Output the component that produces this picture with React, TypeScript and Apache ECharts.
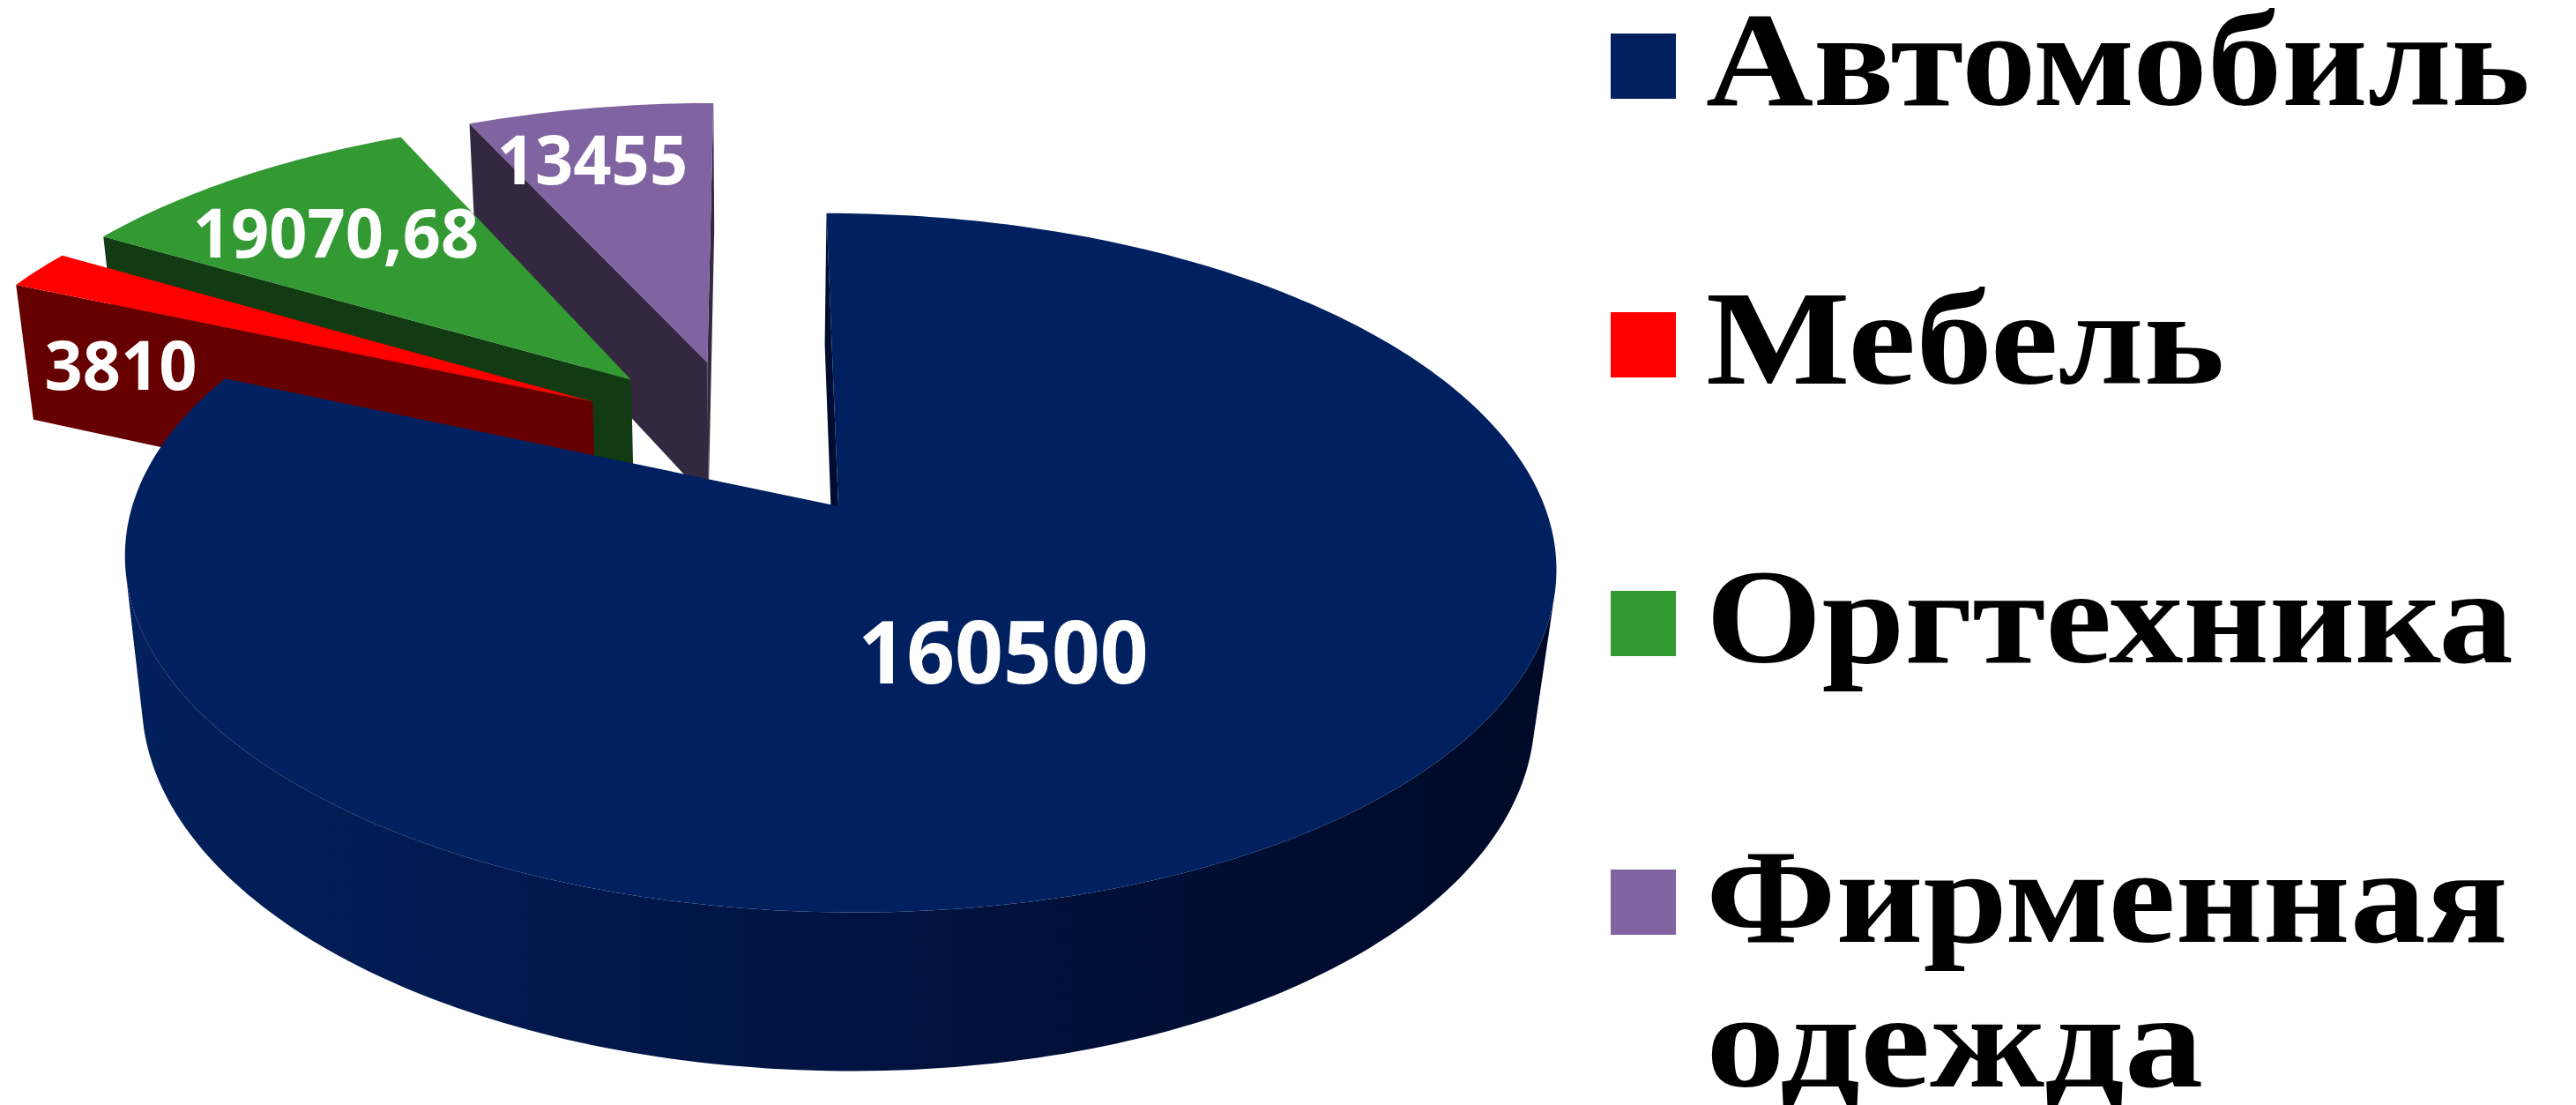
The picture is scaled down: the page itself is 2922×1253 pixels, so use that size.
import React, { useEffect, useRef } from "react";
import * as echarts from "echarts";

const categories = ["Автомобиль", "Мебель", "Оргтехника", "Фирменная\nодежда"];
const values = [160500, 3810, 19070.68, 13455];
const topColors = ["#002060", "#FF0000", "#339933", "#8064A2"];
const wallColors = ["#000C30", "#660000", "#133B13", "#332840"];

// Perspective projection of the exploded pie, in page pixels
const VX = 854, Y0 = 574, RX = 801, RY = 386, HEIGHT = 168, SHIFT = 97;
const K = 0.162, M = 0.027, EXPLODE = 0.25, EXPLODED_RADIUS = 1.012;
const labelCentres = [[1138, 737], [137, 412], [381, 262], [672, 179]];
const labelSizes = [99, 78, 78, 78];
const labelScale = 0.97;
const drawOrder = [3, 2, 1, 0];

const total = values.reduce((a, b) => a + b, 0);
let acc = 0;
const slices = values.map((v) => {
  const a0 = (acc / total) * Math.PI * 2;
  acc += v;
  const a1 = (acc / total) * Math.PI * 2;
  return { a0, a1, mid: (a0 + a1) / 2 };
});
const project = (u: number, v: number, z: number) => {
  const w = 1 + K * v + M * z;
  return [VX + (RX * u + SHIFT) / w, Y0 + (-RY * v + HEIGHT * z) / w];
};
const shoelace = (p: number[][]) => {
  let s = 0;
  p.forEach((q, i) => {
    const r = p[(i + 1) % p.length];
    s += q[0] * r[1] - r[0] * q[1];
  });
  return s;
};

function sliceShapes(i: number) {
  const s = slices[i];
  const m0 = slices[0].mid;
  const ou = EXPLODE * (Math.sin(s.mid) - Math.sin(m0));
  const ov = EXPLODE * (Math.cos(s.mid) - Math.cos(m0));
  const r = i === 0 ? 1 : EXPLODED_RADIUS;
  const rim = (a: number, z: number) => project(ou + r * Math.sin(a), ov + r * Math.cos(a), z);
  const n = Math.max(2, Math.ceil((s.a1 - s.a0) / (Math.PI / 180)));
  const angles = Array.from({ length: n + 1 }, (_, j) => s.a0 + ((s.a1 - s.a0) * j) / n);
  const apexT = project(ou, ov, 0);
  const apexB = project(ou, ov, 1);
  const children: any[] = [];
  const wall = (pts: number[][]) => {
    if (shoelace(pts) < 0)
      children.push({ type: "polygon", shape: { points: pts }, style: { fill: wallColors[i] } });
  };
  wall([rim(s.a1, 0), apexT, apexB, rim(s.a1, 1)]);
  wall([apexT, rim(s.a0, 0), rim(s.a0, 1), apexB]);
  // outer wall: only the stretch that faces the viewer
  const vis = angles.filter((a, j) => {
    if (j === n) return false;
    const b = angles[j + 1];
    return shoelace([rim(a, 0), rim(b, 0), rim(b, 1), rim(a, 1)]) < 0;
  });
  if (vis.length) {
    const from = vis[0];
    const to = vis[vis.length - 1] + (s.a1 - s.a0) / n;
    const arc = angles.filter((a) => a >= from - 1e-6 && a <= to + 1e-6);
    const pts = [...arc.map((a) => rim(a, 0)), ...arc.slice().reverse().map((a) => rim(a, 1))];
    children.push({
      type: "polygon",
      shape: { points: pts },
      style: {
        fill: new echarts.graphic.LinearGradient(0, 0, 1, 0, [
          { offset: 0, color: "#02205C" },
          { offset: 0.5, color: "#011342" },
          { offset: 1, color: "#000A28" },
        ]),
      },
    });
  }
  children.push({
    type: "polygon",
    shape: { points: [apexT, ...angles.map((a) => rim(a, 0))] },
    style: { fill: topColors[i] },
  });
  children.push({
    type: "text",
    x: labelCentres[i][0],
    y: labelCentres[i][1],
    scaleX: labelScale,
    style: {
      text: String(values[i]).replace(".", ","),
      font: `bold ${labelSizes[i]}px "Open Sans"`,
      fill: "#FFFFFF",
      textAlign: "center",
      textVerticalAlign: "middle",
    },
  });
  return children;
}

// Legend layout
const LEGEND_SWATCH_X = 1827, LEGEND_SWATCH = 74;
const legendSwatchY = [38, 354, 670, 986];
const legendTextX = 1935, legendFont = 153, legendLine = 164;
const legendScaleX = [[1.105], [1.133], [1.105], [1.123, 1.17]];
const legendBaseline = [144, 460, 776, 1093];

function legendGraphics() {
  const out: any[] = [];
  categories.forEach((c, i) => {
    out.push({
      type: "rect",
      shape: { x: LEGEND_SWATCH_X, y: legendSwatchY[i], width: LEGEND_SWATCH, height: LEGEND_SWATCH },
      style: { fill: topColors[i] },
    });
    c.split("\n").forEach((line, j) => {
      out.push({
        type: "text",
        x: legendTextX,
        y: legendBaseline[i] + j * legendLine,
        scaleX: legendScaleX[i][j],
        style: {
          text: line,
          font: `bold ${legendFont}px "Liberation Serif"`,
          fill: "#000000",
          textAlign: "left",
          textVerticalAlign: "bottom",
        },
      });
    });
  });
  return out;
}

export default function App() {
  const ref = useRef<HTMLDivElement>(null);
  useEffect(() => {
    document.body.style.margin = "0";
    const chart = echarts.init(ref.current!, undefined, { renderer: "svg" });
    chart.setOption({
      animation: false,
      backgroundColor: "#FFFFFF",
      series: drawOrder.map((i) => ({
        type: "custom",
        name: categories[i].replace("\n", " "),
        coordinateSystem: "none",
        silent: true,
        clip: false,
        data: [values[i]],
        renderItem: () => ({ type: "group", children: sliceShapes(i) }),
      })),
      graphic: legendGraphics(),
    });
    return () => chart.dispose();
  }, []);
  return <div ref={ref} style={{ position: "absolute", left: 0, top: 0, width: 2922, height: 1253, overflow: "hidden" }} />;
}
